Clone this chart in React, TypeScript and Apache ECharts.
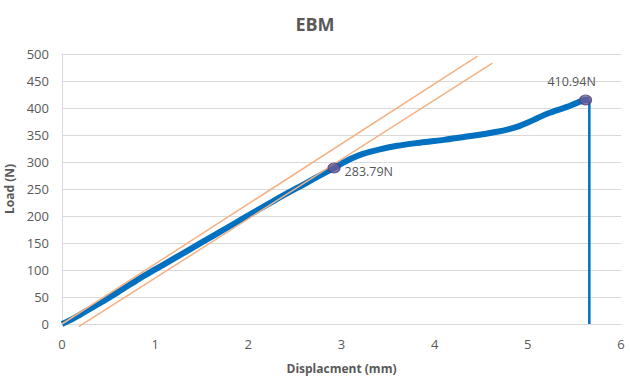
import React, { useEffect, useRef } from "react";
import * as echarts from "echarts";

const loadCurve: [number, number][] = [
  [0, 0], [0.1, 8], [0.2, 18], [0.4, 38], [0.6, 59], [0.84, 85], [1.0, 101],
  [1.2, 121], [1.5, 151], [1.8, 181], [2.0, 201], [2.3, 231], [2.63, 262],
  [2.8, 278], [2.92, 289], [3.0, 297], [3.1, 306], [3.23, 315], [3.4, 323],
  [3.6, 330], [3.8, 335], [3.95, 338], [4.1, 341], [4.3, 346], [4.5, 351],
  [4.67, 356], [4.8, 361], [4.9, 366], [5.0, 373], [5.1, 381], [5.2, 389],
  [5.3, 395], [5.42, 402], [5.52, 409], [5.62, 415], [5.66, 415],
];
const dropLine: [number, number][] = [[5.66, 415], [5.66, 0]];
const tangentA: [number, number][] = [[0, 0], [4.46, 496]];
const tangentB: [number, number][] = [[0.18, -5], [4.62, 483]];
const keyPoints = [
  { value: [2.92, 289], label: "283.79N", pos: "right" },
  { value: [5.62, 415], label: "410.94N", pos: "top" },
];
const xTicks = { min: 0, max: 6, interval: 1 };
const yTicks = { min: 0, max: 500, interval: 50 };

export default function App() {
  const ref = useRef<HTMLDivElement>(null);
  useEffect(() => {
    if (!ref.current) return;
    const chart = echarts.init(ref.current, undefined, { renderer: "svg" });
    const font = "'Open Sans', 'Noto Sans', sans-serif";
    chart.setOption({
      animation: false,
      title: {
        text: "EBM",
        left: "center",
        top: 10,
        textStyle: { fontFamily: font, fontSize: 18, fontWeight: "bold", color: "#595959" },
      },
      grid: { left: 62, right: 9, top: 54, bottom: 56, containLabel: false, outerBoundsMode: "none" },
      xAxis: {
        type: "value",
        ...xTicks,
        name: "Displacment (mm)",
        nameLocation: "middle",
        nameGap: 38,
        nameTextStyle: { fontFamily: font, fontSize: 12, fontWeight: "bold", color: "#595959" },
        axisLine: { show: true, lineStyle: { color: "#D9D9D9" } },
        axisTick: { show: false },
        splitLine: { show: false },
        axisLabel: { fontFamily: font, fontSize: 13, color: "#595959", margin: 13 },
      },
      yAxis: {
        type: "value",
        ...yTicks,
        name: "Load (N)",
        nameLocation: "middle",
        nameGap: 38,
        nameTextStyle: { fontFamily: font, fontSize: 12, fontWeight: "bold", color: "#595959" },
        axisLine: { show: true, lineStyle: { color: "#D9D9D9" } },
        axisTick: { show: false },
        splitLine: { show: true, lineStyle: { color: "#D9D9D9" } },
        axisLabel: { fontFamily: font, fontSize: 13, color: "#595959", margin: 13 },
      },
      series: [
        {
          type: "line",
          data: tangentA,
          showSymbol: false,
          silent: true,
          clip: false,
          lineStyle: { color: "#F4B183", width: 1.5 },
          z: 3,
        },
        {
          type: "line",
          data: tangentB,
          showSymbol: false,
          silent: true,
          clip: false,
          lineStyle: { color: "#F4B183", width: 1.5 },
          z: 3,
        },
        {
          type: "line",
          data: loadCurve,
          showSymbol: false,
          smooth: 0.3,
          lineStyle: { color: "#0070C0", width: 6 },
          z: 2,
        },
        {
          type: "line",
          data: dropLine,
          showSymbol: false,
          lineStyle: { color: "#0070C0", width: 2.5 },
          z: 2,
        },
        {
          type: "scatter",
          data: keyPoints.map((p) => ({
            value: p.value,
            label: {
              show: true,
              formatter: p.label,
              position: p.pos,
              distance: p.pos === "top" ? 6 : 4,
              offset: p.pos === "top" ? [-14, 0] : [0, 4],
            },
          })),
          symbol: "circle",
          symbolSize: [12, 10],
          itemStyle: { color: "#6C5A96", borderColor: "#4E3D7A", borderWidth: 1 },
          label: { fontFamily: font, fontSize: 12.5, color: "#262626" },
          z: 5,
        },
      ],
    });
    return () => chart.dispose();
  }, []);
  return (
    <div
      ref={ref}
      style={{ position: "fixed", left: 0, top: 0, width: 630, height: 380, background: "#fff" }}
    />
  );
}
